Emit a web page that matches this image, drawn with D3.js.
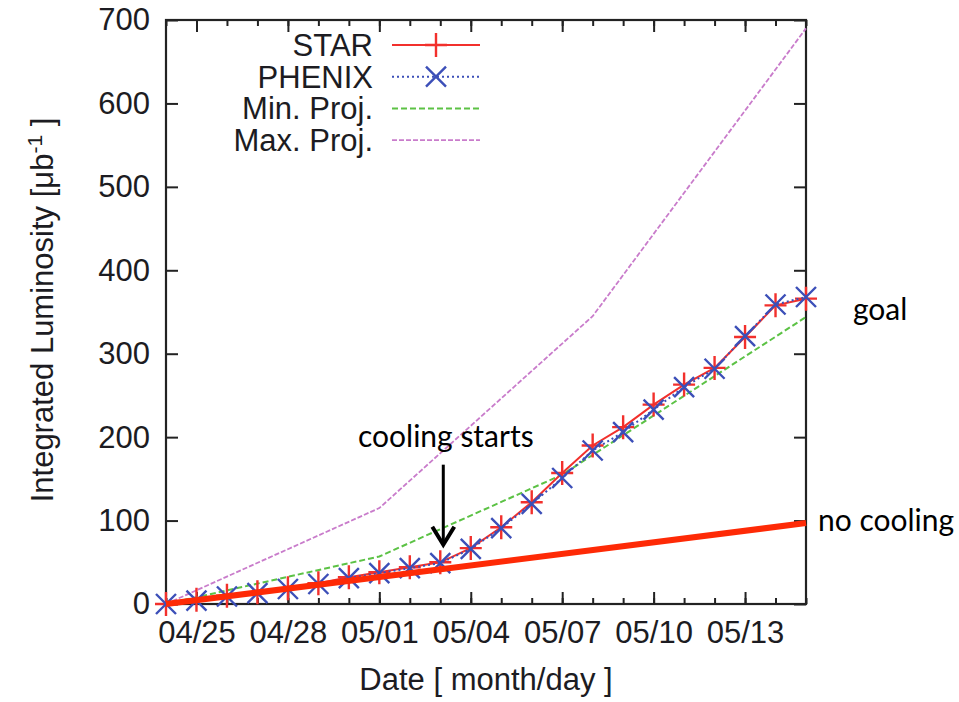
<!DOCTYPE html>
<html>
<head>
<meta charset="utf-8">
<script src="https://cdn.jsdelivr.net/npm/d3@7"></script>
<style>
  body { margin: 0; background: #fff; }
  .gp { font-family: "Liberation Sans", Arial, sans-serif; font-size: 31px; fill: #1c1c22; }
  .note { font-family: Lato, "Open Sans", sans-serif; font-size: 30px; fill: #000; }
  .tick text { font-family: "Liberation Sans", Arial, sans-serif; font-size: 31px; fill: #1c1c22; }
  .tick line { stroke: #222; stroke-width: 2; }
</style>
</head>
<body>
<div id="chartContainer"></div>
<script>
// data
var dates = ["04/24","04/25","04/26","04/27","04/28","04/29","04/30","05/01","05/02","05/03","05/04",
             "05/05","05/06","05/07","05/08","05/09","05/10","05/11","05/12","05/13","05/14","05/15"];
var star   = [0,5,10,14,19,25,32,38,44,50,67,92,122,157,190,212,239,263,283,320,358,366];
var phenix = [0,4,9,13,18,24,31,37,43,49,66,91,120,151,184,206,233,260,282,321,359,368];

var minProjDates = ["04/24","05/01","05/07","05/15"];
var minProj = [0,57,155,344];
var maxProjDates = ["04/24","05/01","05/08","05/15"];
var maxProj = [0,115,345,690];
var noCoolDates = ["04/24","05/15"];
var noCool = [0,97];

var yTicks = [0,100,200,300,400,500,600,700];
var xTickLabels = ["04/25","04/28","05/01","05/04","05/07","05/10","05/13"];
var legendNames = ["STAR","PHENIX","Min. Proj.","Max. Proj."];

var parse = d3.timeParse("%m/%d");
var fmt = d3.timeFormat("%m/%d");

var width = 959, height = 702;
var margin = {left: 166, right: 806, top: 20, bottom: 604};

var svg = d3.select("#chartContainer")
    .append("svg")
    .attr("width", width)
    .attr("height", height);

var xScale = d3.scaleTime()
    .domain([parse(dates[0]), parse(dates[dates.length-1])])
    .range([margin.left, margin.right]);

var yScale = d3.scaleLinear()
    .domain([0, 700])
    .range([margin.bottom, margin.top]);

//axes, ticks point inward
var dayTicks = dates.map(parse);
var majorTicks = xTickLabels.map(parse);

svg.append("g")
    .attr("transform", "translate(0," + margin.bottom + ")")
    .call(d3.axisBottom(xScale).tickValues(dayTicks).tickSize(-6).tickFormat(""));
svg.append("g")
    .attr("transform", "translate(0," + margin.bottom + ")")
    .call(d3.axisBottom(xScale).tickValues(majorTicks).tickSize(-12).tickPadding(17).tickFormat(fmt));
svg.append("g")
    .attr("transform", "translate(0," + margin.top + ")")
    .call(d3.axisTop(xScale).tickValues(dayTicks).tickSize(-6).tickFormat(""));
svg.append("g")
    .attr("transform", "translate(0," + margin.top + ")")
    .call(d3.axisTop(xScale).tickValues(majorTicks).tickSize(-12).tickFormat(""));
svg.append("g")
    .attr("transform", "translate(" + margin.left + ",0)")
    .call(d3.axisLeft(yScale).tickValues(yTicks).tickSize(-12).tickPadding(16));
svg.append("g")
    .attr("transform", "translate(" + margin.right + ",0)")
    .call(d3.axisRight(yScale).tickValues(yTicks).tickSize(-12).tickFormat(""));

svg.selectAll(".domain").remove();

svg.append("rect")
    .attr("x", margin.left).attr("y", margin.top)
    .attr("width", margin.right - margin.left).attr("height", margin.bottom - margin.top)
    .attr("fill", "none")
    .attr("stroke", "#222")
    .attr("stroke-width", 2.2);

//axis titles
svg.append("text")
    .attr("class", "gp")
    .attr("x", (margin.left + margin.right) / 2)
    .attr("y", 690)
    .attr("text-anchor", "middle")
    .text("Date [ month/day ]");

var yTitle = svg.append("text")
    .attr("class", "gp")
    .attr("transform", "translate(53,310) rotate(-90)")
    .attr("text-anchor", "middle");
yTitle.append("tspan").text("Integrated Luminosity [\u03bcb");
yTitle.append("tspan").attr("dy", -11).style("font-size", "21px").text("-1");
yTitle.append("tspan").attr("dy", 11).text(" ]");

//lines
var line = d3.line()
    .x(function(d) { return xScale(parse(d[0])); })
    .y(function(d) { return yScale(d[1]); });

function pairs(ds, vs) {
    return ds.map(function(d, i) { return [d, vs[i]]; });
}

var plusPath = "M-11,0H11M0,-12V12";
var crossPath = "M-10,-10L10,10M-10,10L10,-10";

var styles = [
    {color: "#f2302c", dash: null, w: 2, marker: plusPath},
    {color: "#3c4fb8", dash: "2,3", w: 2, marker: crossPath},
    {color: "#5cc245", dash: "6,3", w: 2, marker: null},
    {color: "#c97ccb", dash: "5,2", w: 1.8, marker: null}
];

svg.append("path")
    .attr("d", line(pairs(maxProjDates, maxProj)))
    .attr("fill", "none")
    .attr("stroke", styles[3].color)
    .attr("stroke-width", styles[3].w)
    .attr("stroke-dasharray", styles[3].dash);

svg.append("path")
    .attr("d", line(pairs(minProjDates, minProj)))
    .attr("fill", "none")
    .attr("stroke", styles[2].color)
    .attr("stroke-width", styles[2].w)
    .attr("stroke-dasharray", styles[2].dash);

[star, phenix].forEach(function(series, k) {
    var st = styles[k];
    var pts = pairs(dates, series);
    svg.append("path")
        .attr("d", line(pts))
        .attr("fill", "none")
        .attr("stroke", st.color)
        .attr("stroke-width", st.w)
        .attr("stroke-dasharray", st.dash);
    svg.selectAll(".m" + k)
        .data(pts)
        .enter()
        .append("path")
        .attr("class", "m" + k)
        .attr("transform", function(d) { return "translate(" + xScale(parse(d[0])) + "," + yScale(d[1]) + ")"; })
        .attr("d", st.marker)
        .attr("stroke", st.color)
        .attr("stroke-width", 2.4);
});

//no cooling line on top
svg.append("path")
    .attr("d", line(pairs(noCoolDates, noCool)))
    .attr("fill", "none")
    .attr("stroke", "#fe2a06")
    .attr("stroke-width", 6);

//key
var key = svg.append("g");
legendNames.forEach(function(name, i) {
    var ky = 45 + i * 31.7;
    var st = styles[i];
    key.append("text")
        .attr("class", "gp")
        .attr("x", 373)
        .attr("y", ky)
        .attr("dy", "0.35em")
        .attr("text-anchor", "end")
        .text(name);
    key.append("line")
        .attr("x1", 392).attr("x2", 480)
        .attr("y1", ky).attr("y2", ky)
        .attr("stroke", st.color)
        .attr("stroke-width", st.w)
        .attr("stroke-dasharray", st.dash);
    if (st.marker) {
        key.append("path")
            .attr("transform", "translate(436," + ky + ")")
            .attr("d", st.marker)
            .attr("stroke", st.color)
            .attr("stroke-width", 2.4);
    }
});

//annotations
var endX = xScale(parse(dates[dates.length-1]));
svg.append("text")
    .attr("class", "note")
    .attr("x", endX + 47)
    .attr("y", yScale(340))
    .text("goal");
svg.append("text")
    .attr("class", "note")
    .attr("x", endX + 12)
    .attr("y", yScale(88))
    .text("no cooling");
svg.append("text")
    .attr("class", "note")
    .attr("x", 358)
    .attr("y", yScale(188))
    .text("cooling starts");

var ax = xScale(parse("05/03")) + 3;
svg.append("line")
    .attr("x1", ax).attr("x2", ax)
    .attr("y1", yScale(167)).attr("y2", yScale(71))
    .attr("stroke", "#000")
    .attr("stroke-width", 3);
svg.append("path")
    .attr("d", "M" + (ax - 11) + "," + (yScale(71) - 18) + "L" + ax + "," + yScale(71) + "L" + (ax + 11) + "," + (yScale(71) - 18))
    .attr("fill", "none")
    .attr("stroke", "#000")
    .attr("stroke-width", 4);
</script>
</body>
</html>
